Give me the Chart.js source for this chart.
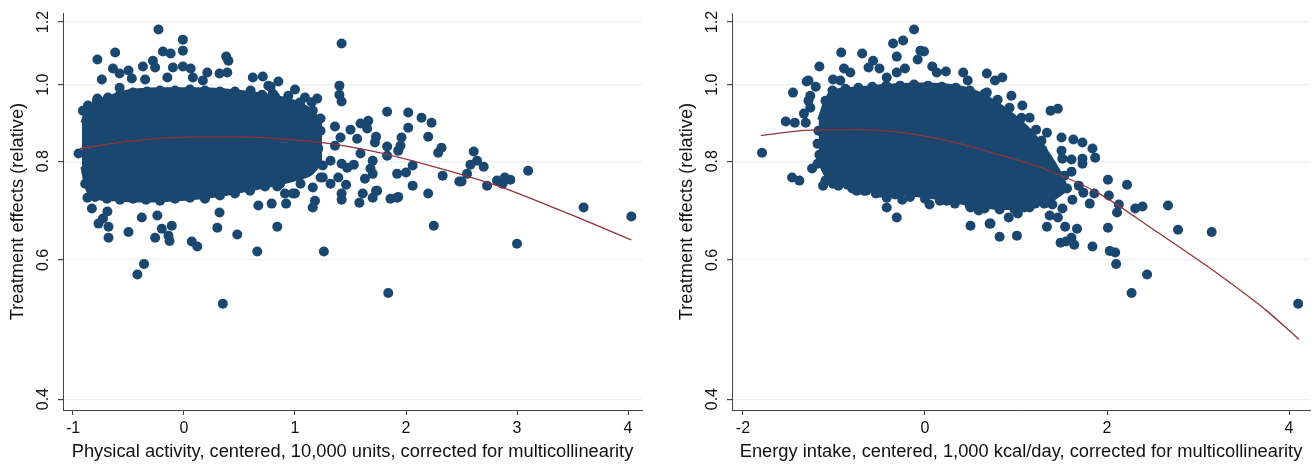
<!DOCTYPE html>
<html>
<head>
<meta charset="utf-8">
<script src="https://cdn.jsdelivr.net/npm/chart.js@4"></script>
<style>
  html, body { margin: 0; padding: 0; background: #fff; }
  #wrap { position: relative; width: 1315px; height: 465px; }
  #leftChart { position: absolute; left: 0; top: 0; }
  #rightChart { position: absolute; left: 669px; top: 0; }
</style>
</head>
<body>
<div id="wrap">
  <canvas id="leftChart" width="650" height="465"></canvas>
  <canvas id="rightChart" width="646" height="465"></canvas>
</div>
<script>
// shared y axis (log scale)
const yTicks = [0.4, 0.6, 0.8, 1.0, 1.2];
const yTitle = 'Treatment effects (relative)';

// --- left panel: physical activity ---
const leftTitle = 'Physical activity, centered, 10,000 units, corrected for multicollinearity';
const leftTicks = [-1, 0, 1, 2, 3, 4];
// dense core of the cloud (upper / lower edge)
const leftCoreX = [-0.92, -0.865, -0.757, -0.622, -0.486, -0.216, 0.054, 0.324, 0.595, 0.82, 1.0, 1.135, 1.243];
const leftCoreTop = [0.895, 0.935, 0.957, 0.971, 0.983, 0.988, 0.988, 0.986, 0.977, 0.966, 0.952, 0.93, 0.895];
const leftCoreBottom = [0.787, 0.732, 0.717, 0.715, 0.713, 0.713, 0.717, 0.724, 0.736, 0.747, 0.758, 0.769, 0.799];
// points on the ragged edge of the core
const leftEdgePoints = [
  [-0.865,0.941],[-0.784,0.954],[-0.685,0.963],[-0.577,0.971],[-0.459,0.977],[-0.333,0.98],[-0.216,0.983],
  [-0.081,0.983],[0.054,0.986],[0.189,0.983],[0.324,0.98],[0.459,0.98],[0.595,0.974],[0.703,0.971],
  [0.82,0.966],[0.928,0.957],[1.045,0.949],
  [-0.802,0.721],[-0.694,0.717],[-0.577,0.715],[-0.459,0.717],[-0.342,0.715],[-0.216,0.713],[-0.081,0.717],
  [0.054,0.719],[0.189,0.717],[0.324,0.724],[0.459,0.728],[0.595,0.734],[0.73,0.743],[0.865,0.749]
];
// individual points outside the core
const leftPoints = [
  [-0.23,1.174],[-0.01,1.14],[-0.01,1.104],[-0.19,1.101],[-0.12,1.095],[-0.78,1.076],[-0.62,1.098],
  [-0.64,1.048],[-0.74,1.015],[-0.28,1.072],[-0.26,1.051],[-0.10,1.051],[-0.01,1.054],[0.06,1.048],
  [0.21,1.036],[0.38,1.085],[0.40,1.072],[0.32,1.033],[0.39,1.036],[-0.37,1.054],[-0.50,1.042],
  [-0.58,1.033],[-0.47,1.018],[-0.35,1.015],[-0.15,1.021],[0.08,1.021],[0.17,1.012],[0.62,1.021],
  [0.71,1.024],[0.85,1.009],[-0.58,0.991],[-0.78,0.96],[-0.91,0.927],[0.60,0.983],[0.78,0.994],
  [1.0,0.986],[1.09,0.963],[1.2,0.96],[1.16,0.927],[1.23,0.906],[-0.95,0.818],[-0.89,0.749],
  [-0.87,0.719],[-0.83,0.697],[-0.77,0.667],[-0.73,0.677],[-0.69,0.691],[-0.68,0.661],[-0.68,0.64],
  [-0.50,0.651],[-0.38,0.679],[-0.24,0.683],[-0.26,0.64],[-0.20,0.657],[-0.11,0.663],[-0.14,0.644],
  [-0.13,0.634],[0.07,0.633],[0.12,0.624],[0.30,0.659],[0.32,0.689],[0.48,0.646],[0.67,0.703],
  [0.79,0.707],[0.84,0.661],[0.84,0.743],[0.91,0.728],[0.92,0.707],[1.0,0.728],[1.16,0.699],
  [1.18,0.713],[1.25,0.763],[-0.42,0.575],[-0.36,0.593],[0.35,0.528],[0.66,0.615],[1.26,0.615],
  [1.42,1.127],[1.40,0.997],[1.40,0.971],[1.42,0.952],[1.83,0.924],[2.02,0.922],[2.14,0.908],
  [2.23,0.895],[2.02,0.882],[2.20,0.859],[2.32,0.832],[2.29,0.82],[2.33,0.767],[2.48,0.754],
  [2.06,0.745],[2.20,0.728],[1.92,0.771],[2.0,0.774],[2.06,0.79],[1.74,0.734],[1.92,0.719],
  [1.86,0.717],[1.63,0.76],[1.53,0.792],[1.46,0.747],[1.59,0.893],[1.66,0.9],[1.65,0.88],
  [1.50,0.877],[1.36,0.885],[1.73,0.859],[1.72,0.845],[1.83,0.835],[1.93,0.825],[1.96,0.857],
  [1.95,0.837],[1.83,0.813],[1.70,0.801],[1.68,0.783],[1.70,0.771],[1.59,0.818],[1.56,0.854],
  [1.41,0.857],[1.36,0.837],[1.42,0.794],[1.32,0.801],[1.21,0.83],[1.23,0.874],[1.07,0.927],
  [1.03,0.946],[0.94,0.968],[0.80,0.974],[0.76,0.997],[1.47,0.785],[1.39,0.763],[1.32,0.749],
  [1.23,0.763],[1.16,0.741],[1.05,0.749],[0.98,0.728],[1.42,0.728],[1.61,0.728],[1.42,0.715],
  [1.58,0.709],[1.70,0.719],[1.73,0.734],[1.93,0.721],[2.25,0.663],[2.50,0.754],[2.55,0.771],
  [2.58,0.792],[2.61,0.823],[2.64,0.801],[2.70,0.787],[2.73,0.745],[2.82,0.756],[2.87,0.749],
  [2.89,0.763],[2.94,0.758],[3.10,0.778],[3.60,0.699],[4.03,0.681],[3.0,0.629],[1.84,0.545],
  [1.10,0.90],[1.15,0.87],[1.10,0.84],[1.20,0.81],[1.12,0.78],[1.25,0.79],[1.08,0.81],[1.05,0.88],[1.15,0.95]
];
// fitted curve
const leftFitX = [-0.937, -0.486, -0.126, 0.234, 0.595, 0.955, 1.315, 1.676, 2.216, 2.82, 3.414, 4.03];
const leftFitY = [0.83, 0.848, 0.857, 0.859, 0.858, 0.852, 0.842, 0.825, 0.79, 0.745, 0.691, 0.636];

// --- right panel: energy intake ---
const rightTitle = 'Energy intake, centered, 1,000 kcal/day, corrected for multicollinearity';
const rightTicks = [-2, 0, 2, 4];
const rightCoreX = [-1.169, -1.038, -0.71, -0.273, 0.164, 0.492, 0.82, 1.148, 1.366, 1.53];
const rightCoreTop = [0.903, 0.977, 0.991, 1.0, 1.0, 0.986, 0.943, 0.877, 0.815, 0.758];
const rightCoreBottom = [0.799, 0.754, 0.739, 0.728, 0.717, 0.705, 0.697, 0.701, 0.711, 0.732];
const rightEdgePoints = [
  [-1.093,0.954],[-1.016,0.983],[-0.874,0.988],[-0.732,0.991],[-0.579,0.994],[-0.426,0.997],[-0.273,0.997],
  [-0.12,1.0],[0.033,0.997],[0.186,0.994],[0.339,0.991],[0.492,0.983],[0.656,0.974],[0.798,0.957],[0.929,0.935],
  [-1.093,0.756],[-0.951,0.745],[-0.798,0.739],[-0.645,0.734],[-0.492,0.73],[-0.328,0.726],[-0.164,0.721],
  [0.0,0.717],[0.164,0.713],[0.328,0.707],[0.492,0.703],[0.656,0.697],[0.82,0.695],[0.984,0.695],
  [1.148,0.699],[1.311,0.707]
];
const rightPoints = [
  [-0.12,1.174],[-0.35,1.127],[-0.24,1.137],[-0.31,1.085],[-0.08,1.076],[-0.05,1.104],[-0.01,1.101],
  [-0.92,1.098],[-0.69,1.095],[-1.16,1.054],[-0.89,1.048],[-0.82,1.036],[-0.62,1.051],[-0.57,1.072],
  [-0.50,1.048],[-0.42,1.021],[-0.31,1.036],[-0.22,1.048],[0.08,1.054],[0.13,1.036],[0.23,1.039],
  [0.42,1.036],[0.47,1.012],[0.68,1.033],[0.77,1.012],[0.85,1.021],[0.68,0.977],[0.95,0.968],
  [1.07,0.941],[1.38,0.927],[1.46,0.932],[0.60,0.96],[0.63,0.949],[0.87,0.922],[1.06,0.908],
  [1.15,0.908],[1.22,0.877],[1.34,0.869],[1.50,0.857],[1.63,0.852],[1.73,0.845],[1.84,0.83],
  [1.87,0.808],[1.73,0.806],[1.73,0.794],[1.28,0.849],[1.18,0.842],[1.29,0.827],[1.50,0.825],
  [1.61,0.804],[1.51,0.806],[1.30,0.82],[1.40,0.785],[1.61,0.776],[1.53,0.767],[1.34,0.749],
  [1.50,0.749],[1.56,0.739],[1.69,0.745],[1.74,0.73],[1.86,0.728],[2.01,0.758],[2.22,0.747],
  [1.81,0.707],[2.02,0.724],[2.13,0.705],[2.11,0.689],[2.31,0.697],[2.39,0.701],[2.67,0.703],
  [2.78,0.655],[3.15,0.651],[2.01,0.659],[1.51,0.697],[1.40,0.705],[1.21,0.707],[1.09,0.699],
  [1.37,0.683],[1.46,0.679],[1.34,0.661],[1.54,0.661],[1.67,0.657],[1.01,0.644],[0.82,0.642],
  [0.72,0.667],[0.92,0.679],[1.02,0.687],[1.62,0.715],[1.49,0.631],[1.55,0.633],[1.61,0.64],
  [1.64,0.627],[1.84,0.624],[2.03,0.616],[2.09,0.613],[2.10,0.593],[2.44,0.575],[2.27,0.545],
  [4.10,0.528],
  [-1.30,1.009],[-1.28,1.012],[-1.20,0.994],[-1.45,0.977],[-1.26,0.968],[-1.28,0.954],[-1.33,0.919],
  [-1.26,0.935],[-1.53,0.898],[-1.43,0.895],[-1.31,0.895],[-1.17,0.874],[-1.79,0.82],[-1.46,0.763],
  [-1.38,0.756],[-1.24,0.783],[-1.18,0.794],[-1.16,0.815],[-1.18,0.842],[-1.01,1.015],[-0.93,1.012],
  [-1.12,0.745],[-1.01,0.749],[-0.85,0.747],[-0.75,0.734],[-0.67,0.734],[-0.54,0.728],[-0.42,0.719],
  [-0.42,0.699],[-0.31,0.679],[-0.25,0.715],[0.05,0.705],[0.24,0.713],[0.50,0.663],[0.50,0.699],
  [0.59,0.693],[0.71,0.667]
];
const rightFitX = [-1.803, -1.257, -0.71, -0.164, 0.383, 0.82, 1.366, 1.913, 2.514, 3.202, 3.749, 4.109];
const rightFitY = [0.862, 0.876, 0.877, 0.867, 0.842, 0.815, 0.778, 0.728, 0.655, 0.578, 0.518, 0.476];

const navy = '#1a476f';
const maroon = '#90353b';
const font = 'Liberation Sans, Arial, Helvetica, sans-serif';

function pairs(xs, ys) { return xs.map((x, i) => ({ x: x, y: ys[i] })); }

function makeChart(id, cfg) {
  const ctx = document.getElementById(id).getContext('2d');
  return new Chart(ctx, {
    type: 'line',
    data: {
      datasets: [
        { data: pairs(cfg.fitX, cfg.fitY), borderColor: maroon, borderWidth: 1.3,
          pointRadius: 0, cubicInterpolationMode: 'monotone', fill: false, order: 0 },
        { data: cfg.points.concat(cfg.edge).map(p => ({ x: p[0], y: p[1] })), showLine: false,
          pointRadius: 5, pointBackgroundColor: navy, pointBorderWidth: 0, order: 1 },
        { data: pairs(cfg.coreX, cfg.coreTop), borderColor: navy, borderWidth: 3,
          backgroundColor: navy, pointRadius: 0, tension: 0.3, fill: '+1', order: 2 },
        { data: pairs(cfg.coreX, cfg.coreBottom), borderColor: navy, borderWidth: 3,
          pointRadius: 0, tension: 0.3, fill: false, order: 2 }
      ]
    },
    options: {
      responsive: false,
      animation: false,
      layout: { padding: { top: 13, right: cfg.padRight, bottom: 0, left: 0 } },
      plugins: { legend: { display: false }, tooltip: { enabled: false } },
      scales: {
        x: {
          type: 'linear', min: cfg.xMin, max: cfg.xMax,
          afterBuildTicks: s => { s.ticks = cfg.ticks.map(v => ({ value: v })); },
          afterFit: s => { s.height = 55; },
          grid: { display: true, drawOnChartArea: false, tickLength: 5, tickColor: '#444' },
          border: { color: '#444', width: 1 },
          ticks: { color: '#111', padding: 4, maxRotation: 0, font: { family: font, size: 16 } },
          title: { display: true, text: cfg.title, color: '#111', padding: { top: 0, bottom: 2 },
                   font: { family: font, size: 18.3 } }
        },
        y: {
          type: 'logarithmic', min: 0.3875, max: 1.232,
          afterBuildTicks: s => { s.ticks = yTicks.map(v => ({ value: v })); },
          afterFit: s => { s.width = 63; },
          grid: { color: '#e8f0f2', lineWidth: 1.2, tickLength: 5, tickColor: '#444' },
          border: { color: '#444', width: 1 },
          ticks: { color: '#111', padding: 3, minRotation: 90, maxRotation: 90, crossAlign: 'center',
                   font: { family: font, size: 16 }, callback: v => Number(v).toFixed(1) },
          title: { display: true, text: yTitle, color: '#111', padding: { top: 7, bottom: 0 },
                   font: { family: font, size: 18.3 } }
        }
      }
    }
  });
}

makeChart('leftChart', {
  fitX: leftFitX, fitY: leftFitY, points: leftPoints, edge: leftEdgePoints,
  coreX: leftCoreX, coreTop: leftCoreTop, coreBottom: leftCoreBottom,
  ticks: leftTicks, xMin: -1.09, xMax: 4.126, title: leftTitle, padRight: 8
});
makeChart('rightChart', {
  fitX: rightFitX, fitY: rightFitY, points: rightPoints, edge: rightEdgePoints,
  coreX: rightCoreX, coreTop: rightCoreTop, coreBottom: rightCoreBottom,
  ticks: rightTicks, xMin: -2.12, xMax: 4.23, title: rightTitle, padRight: 4
});
</script>
</body>
</html>
